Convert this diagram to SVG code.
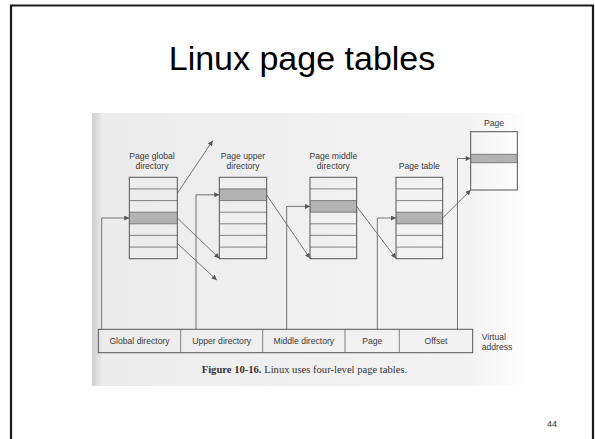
<svg xmlns="http://www.w3.org/2000/svg" width="595" height="439" viewBox="0 0 595 439">
  <defs>
    <marker id="ah" viewBox="0 0 10 10" refX="10" refY="5" markerWidth="6" markerHeight="5" markerUnits="userSpaceOnUse" orient="auto">
      <path d="M0,0 L10,5 L0,10 z" fill="#555"/>
    </marker>
    <linearGradient id="scanEdge" x1="0" y1="0" x2="1" y2="0">
      <stop offset="0" stop-color="#d0d0d0"/>
      <stop offset="0.025" stop-color="#ececec"/>
      <stop offset="0.85" stop-color="#f3f3f3"/>
      <stop offset="1" stop-color="#ffffff"/>
    </linearGradient>
  </defs>
  <style>
    .frame { fill: none; stroke: #1a1a1a; stroke-width: 2.2; }
    .title { font-family: "Liberation Sans", Arial, sans-serif; font-size: 34px; fill: #000; text-anchor: middle; }
    .lbl { font-family: "Liberation Sans", Arial, sans-serif; font-size: 8.6px; fill: #3a3a3a; text-anchor: middle; }
    .lbl-l { font-family: "Liberation Sans", Arial, sans-serif; font-size: 8.6px; fill: #3a3a3a; }
    .cap { font-family: "Liberation Serif", "Times New Roman", serif; font-size: 10.6px; fill: #333; }
    .pnum { font-family: "Liberation Sans", Arial, sans-serif; font-size: 9px; fill: #333; text-anchor: middle; }
    .box { fill: none; stroke: #555; stroke-width: 1; }
    .row { stroke: #666; stroke-width: 0.8; fill: none; }
    .shade { fill: #b3b3b3; }
    .conn { fill: none; stroke: #555; stroke-width: 0.8; }
  </style>

  <rect x="0" y="0" width="595" height="439" fill="#ffffff"/>
  <path class="frame" d="M11,440 L11,5.5 L593,5.5 L593,440"/>

  <g id="title">
    <text class="title" x="302" y="70">Linux page tables</text>
  </g>

  <g id="scan-background">
    <rect x="92" y="113" width="440" height="273" fill="url(#scanEdge)"/>
  </g>

  <g id="page-global-directory">
    <text class="lbl" x="152" y="159">Page global</text>
    <text class="lbl" x="152" y="169">directory</text>
    <rect class="shade" x="129.3" y="212.2" width="48" height="11.6"/>
    <rect class="box" x="129.3" y="177.3" width="48" height="81.4"/>
    <path class="row" d="M129.3,188.9 H177.3 M129.3,200.6 H177.3 M129.3,212.2 H177.3 M129.3,223.8 H177.3 M129.3,235.4 H177.3 M129.3,247.1 H177.3"/>
  </g>

  <g id="page-upper-directory">
    <text class="lbl" x="243" y="159">Page upper</text>
    <text class="lbl" x="243" y="169">directory</text>
    <rect class="shade" x="219.3" y="188.9" width="47.4" height="11.7"/>
    <rect class="box" x="219.3" y="177.3" width="47.4" height="81.4"/>
    <path class="row" d="M219.3,188.9 H266.7 M219.3,200.6 H266.7 M219.3,212.2 H266.7 M219.3,223.8 H266.7 M219.3,235.4 H266.7 M219.3,247.1 H266.7"/>
  </g>

  <g id="page-middle-directory">
    <text class="lbl" x="333.3" y="159">Page middle</text>
    <text class="lbl" x="333.3" y="169">directory</text>
    <rect class="shade" x="310" y="200.6" width="46.7" height="11.6"/>
    <rect class="box" x="310" y="177.3" width="46.7" height="81.4"/>
    <path class="row" d="M310,188.9 H356.7 M310,200.6 H356.7 M310,212.2 H356.7 M310,223.8 H356.7 M310,235.4 H356.7 M310,247.1 H356.7"/>
  </g>

  <g id="page-table">
    <text class="lbl" x="419.3" y="169">Page table</text>
    <rect class="shade" x="396" y="212.2" width="46.7" height="11.6"/>
    <rect class="box" x="396" y="177.3" width="46.7" height="81.4"/>
    <path class="row" d="M396,188.9 H442.7 M396,200.6 H442.7 M396,212.2 H442.7 M396,223.8 H442.7 M396,235.4 H442.7 M396,247.1 H442.7"/>
  </g>

  <g id="page">
    <text class="lbl" x="494" y="126">Page</text>
    <rect class="shade" x="470.7" y="154.3" width="46.6" height="8.4"/>
    <rect class="box" x="470.7" y="131.7" width="46.6" height="58.3"/>
    <path class="row" d="M470.7,154.3 H517.3 M470.7,162.7 H517.3"/>
  </g>

  <g id="virtual-address">
    <rect class="box" x="98.3" y="329.3" width="374.4" height="23.4"/>
    <path class="row" d="M180.7,329.3 V352.7 M262.7,329.3 V352.7 M345,329.3 V352.7 M399.3,329.3 V352.7"/>
    <text class="lbl" x="139.5" y="344.3">Global directory</text>
    <text class="lbl" x="221.7" y="344.3">Upper directory</text>
    <text class="lbl" x="303.8" y="344.3">Middle directory</text>
    <text class="lbl" x="372.2" y="344.3">Page</text>
    <text class="lbl" x="436" y="344.3">Offset</text>
    <text class="lbl-l" x="481.7" y="339.5">Virtual</text>
    <text class="lbl-l" x="481.7" y="349.5">address</text>
  </g>

  <g id="connectors">
    <path class="conn" d="M101.7,329.3 V218 H129.3" marker-end="url(#ah)"/>
    <path class="conn" d="M196,329.3 V194.8 H219.3" marker-end="url(#ah)"/>
    <path class="conn" d="M286.7,329.3 V206.4 H310" marker-end="url(#ah)"/>
    <path class="conn" d="M377.3,329.3 V218 H396" marker-end="url(#ah)"/>
    <path class="conn" d="M457.5,329.3 V158.5 H470.7" marker-end="url(#ah)"/>
    <path class="conn" d="M177.3,193.3 L212.7,140.7" marker-end="url(#ah)"/>
    <path class="conn" d="M177.3,218 L219.3,258.3" marker-end="url(#ah)"/>
    <path class="conn" d="M177.3,243.3 L216.7,280" marker-end="url(#ah)"/>
    <path class="conn" d="M266.7,195 L310,258.3" marker-end="url(#ah)"/>
    <path class="conn" d="M356.7,206.5 L396,258.3" marker-end="url(#ah)"/>
    <path class="conn" d="M442.7,218 L470.7,190" marker-end="url(#ah)"/>
  </g>

  <g id="caption">
    <text class="cap" x="201.7" y="372.5"><tspan font-weight="bold">Figure 10-16.</tspan> Linux uses four-level page tables.</text>
  </g>

  <g id="page-number">
    <text class="pnum" x="552" y="427">44</text>
  </g>
</svg>
